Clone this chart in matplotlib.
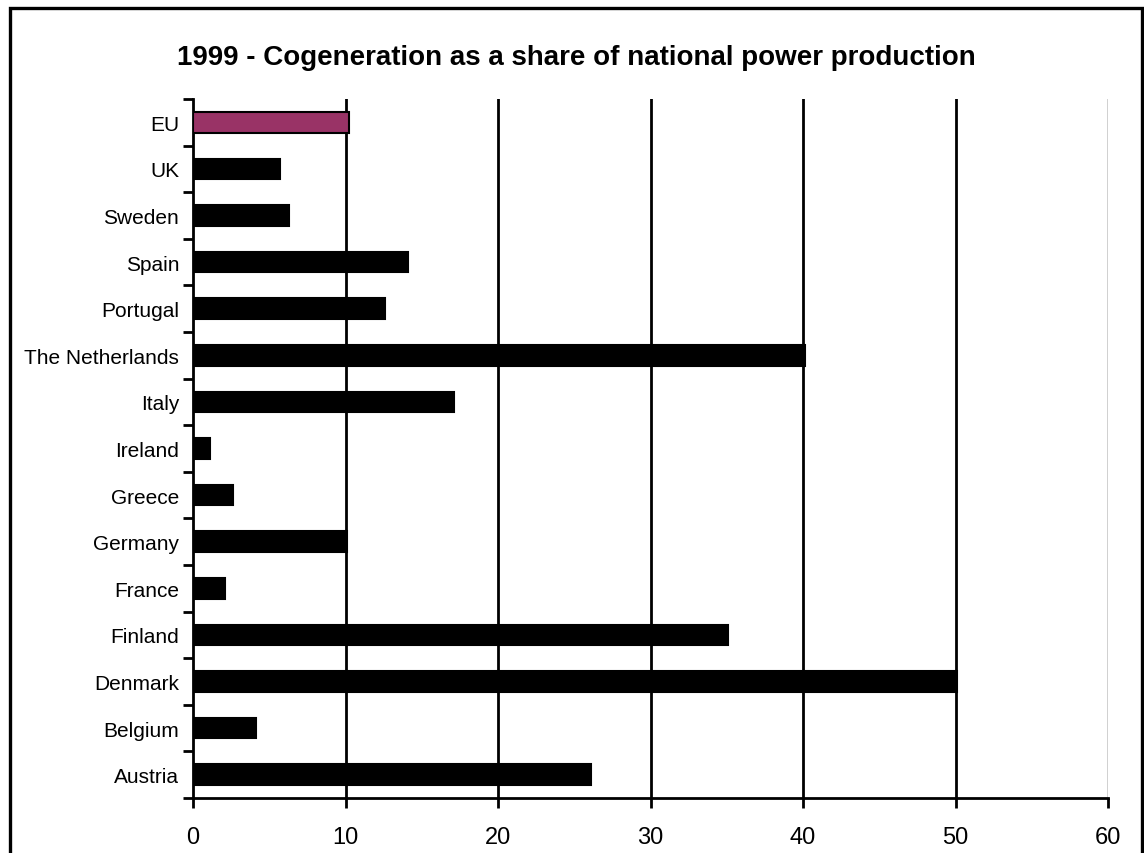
import matplotlib.pyplot as plt
from matplotlib.patches import Rectangle

plt.rcParams['font.family'] = ['Liberation Sans', 'DejaVu Sans']

# Données (du bas vers le haut)
countries = ["Austria", "Belgium", "Denmark", "Finland", "France", "Germany", "Greece",
             "Ireland", "Italy", "The Netherlands", "Portugal", "Spain", "Sweden", "UK", "EU"]
shares = [26.1, 4.1, 50.1, 35.1, 2.1, 10.1, 2.6, 1.1, 17.1, 40.1, 12.6, 14.1, 6.3, 5.7, 10.2]
colors = ["black"] * 14 + ["#993366"]

fig = plt.figure(figsize=(11.44, 8.54), dpi=100)
ax = fig.add_axes([193 / 1144, 1 - 799 / 854, (1108 - 193) / 1144, (799 - 100) / 854])

ypos = list(range(len(countries)))
ax.barh(ypos, shares, height=0.44, color=colors, edgecolor="black", linewidth=1.5, zorder=3)

ax.set_xlim(0, 60)
ax.set_ylim(-0.5, len(countries) - 0.5)
ax.set_xticks(range(0, 61, 10))
ax.set_yticks(ypos)
ax.set_yticklabels(countries)
ax.set_yticks([i - 0.5 for i in range(len(countries) + 1)], minor=True)
ax.tick_params(axis="y", which="major", length=0, pad=10, labelsize=15)
ax.tick_params(axis="y", which="minor", length=7, width=2)
ax.tick_params(axis="x", length=7, width=2, pad=13, labelsize=17)

for x in range(10, 60, 10):
    ax.axvline(x, color="black", linewidth=2, zorder=1)
ax.axvline(60, color="#c8c8c8", linewidth=1.2, zorder=1)

for side in ["top", "right"]:
    ax.spines[side].set_visible(False)
for side in ["left", "bottom"]:
    ax.spines[side].set_linewidth(2)

fig.text(576 / 1144, 1 - 58 / 854, "1999 - Cogeneration as a share of national power production",
         ha="center", va="center", fontsize=20, fontweight="bold")

# Cadre extérieur
fig.patches.append(Rectangle((9.5 / 1144, -0.05), (1142 - 9.5) / 1144, 1.05 - 9 / 854,
                             transform=fig.transFigure, fill=False, edgecolor="black",
                             linewidth=2.4))

fig.savefig("out.png", dpi=100)
